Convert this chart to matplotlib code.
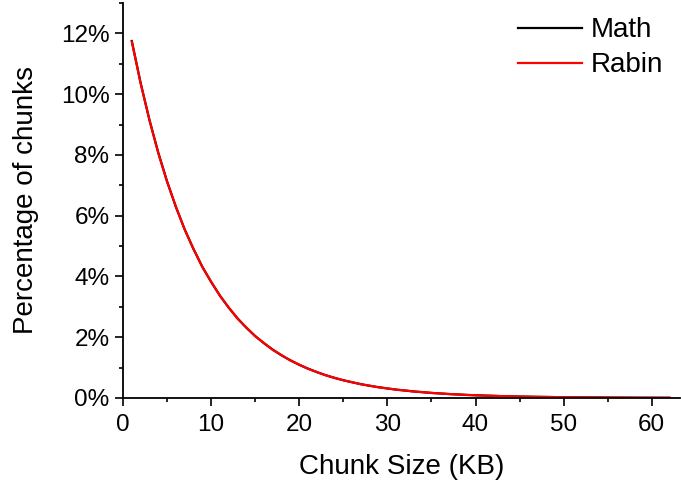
import numpy as np
import matplotlib.pyplot as plt
from matplotlib.ticker import MultipleLocator, PercentFormatter

# chunk size in KB and share of chunks (%) for each chunker
chunk_kb = list(range(1, 63))
math_pct = [11.75, 10.37, 9.15, 8.08, 7.13, 6.29, 5.55, 4.90, 4.32, 3.82,
            3.37, 2.97, 2.62, 2.31, 2.04, 1.80, 1.59, 1.40, 1.24, 1.09,
            0.965, 0.85, 0.75, 0.66, 0.585, 0.516, 0.455, 0.40, 0.355, 0.313,
            0.276, 0.244, 0.215, 0.19, 0.167, 0.148, 0.13, 0.115, 0.101, 0.089,
            0.079, 0.070, 0.061, 0.054, 0.048, 0.042, 0.037, 0.033, 0.029, 0.026,
            0.023, 0.020, 0.018, 0.016, 0.014, 0.012, 0.011, 0.0095, 0.0084, 0.0074,
            0.0065, 0.0058]
rabin_pct = [11.73, 10.36, 9.16, 8.06, 7.12, 6.30, 5.54, 4.91, 4.31, 3.83,
             3.36, 2.98, 2.61, 2.32, 2.03, 1.81, 1.58, 1.41, 1.23, 1.10,
             0.96, 0.855, 0.745, 0.665, 0.58, 0.52, 0.45, 0.405, 0.35, 0.316,
             0.272, 0.247, 0.212, 0.192, 0.165, 0.15, 0.128, 0.117, 0.099, 0.09,
             0.078, 0.071, 0.060, 0.055, 0.047, 0.043, 0.036, 0.034, 0.028, 0.027,
             0.022, 0.021, 0.017, 0.016, 0.013, 0.012, 0.010, 0.0098, 0.0082, 0.0076,
             0.0063, 0.0059]

plt.rcParams['font.family'] = ['Liberation Sans', 'DejaVu Sans']

fig = plt.figure(figsize=(6.81, 4.87), dpi=100)
ax = fig.add_axes([0.1806, 0.1828, 0.8179, 0.811])

ax.plot(chunk_kb, math_pct, color='black', lw=1.6, label='Math')
ax.plot(chunk_kb, rabin_pct, color='red', lw=1.6, label='Rabin')

ax.set_xlim(0, 63.2)
ax.set_ylim(0, 13)
ax.xaxis.set_major_locator(MultipleLocator(10))
ax.xaxis.set_minor_locator(MultipleLocator(5))
ax.yaxis.set_major_locator(MultipleLocator(2))
ax.yaxis.set_minor_locator(MultipleLocator(1))
ax.yaxis.set_major_formatter(PercentFormatter(decimals=0))

for side in ['top', 'right']:
    ax.spines[side].set_visible(False)
for side in ['left', 'bottom']:
    ax.spines[side].set_linewidth(1.3)
ax.tick_params(which='major', direction='out', length=5.8, width=1.2,
               labelsize=17.5)
ax.tick_params(axis='x', which='major', pad=6)
ax.tick_params(axis='y', which='major', pad=4)
ax.tick_params(which='minor', direction='out', length=3, width=1.2)

ax.set_xlabel('Chunk Size (KB)', fontsize=20, labelpad=12.5)
ax.set_ylabel('Percentage of chunks', fontsize=20, labelpad=15.5)

ax.legend(loc='upper right', bbox_to_anchor=(0.992, 0.995), frameon=False,
          fontsize=20, handlelength=2.3, handletextpad=0.32, labelspacing=0.32,
          borderaxespad=0.15, borderpad=0.3)

fig.savefig('out.png', dpi=100)
